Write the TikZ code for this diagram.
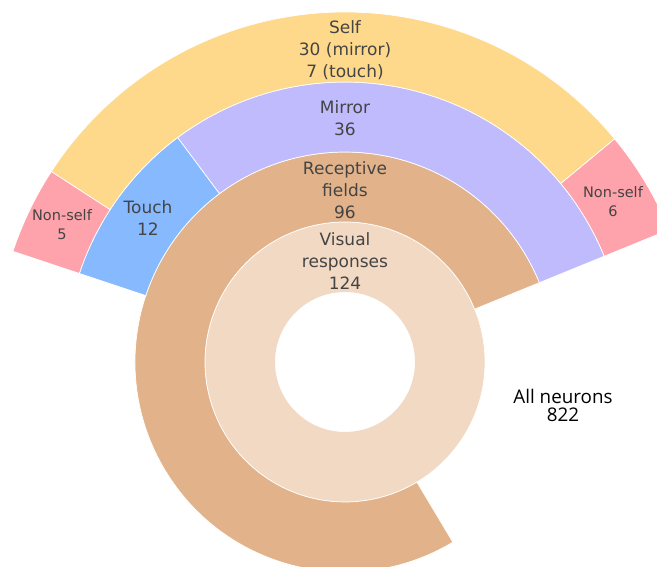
\documentclass[tikz,border=0pt]{standalone}
\usepackage{fontspec}
\setmainfont{DejaVu Sans}
\newfontfamily\allfont{Open Sans}
\definecolor{selfcol}{HTML}{FED98B}
\definecolor{mirrorcol}{HTML}{BFBBFD}
\definecolor{touchcol}{HTML}{86B9FE}
\definecolor{nonselfcol}{HTML}{FEA3AB}
\definecolor{receptcol}{HTML}{E2B38A}
\definecolor{visualcol}{HTML}{F1D9C4}
\definecolor{labelcol}{HTML}{444444}
\tikzset{
  wedge/.style={draw=white, line width=0.7pt},
  lab/.style={align=center, text=labelcol, inner sep=0pt, font=\fontsize{17}{22}\selectfont},
  smalllab/.style={lab, font=\fontsize{14.5}{19}\selectfont}
}
% ring sector: inner radius, outer radius, start angle, end angle, colour
\newcommand{\ringpart}[5]{%
  \fill[#5, wedge] (#3:#1pt) arc[start angle=#3, end angle=#4, radius=#1pt]
    -- (#4:#2pt) arc[start angle=#4, end angle=#3, radius=#2pt] -- cycle;}

\begin{document}
\begin{tikzpicture}[x=1pt, y=1pt]
    \useasboundingbox (-345,-205) rectangle (312,362);
    \clip (-345,-205) rectangle (312,362);
    % 124 neurons = 360 degrees, start at 22.2
    \fill[visualcol, even odd rule] (0,0) circle[radius=140pt] (0,0) circle[radius=70pt];
    \draw[wedge] (0,0) circle[radius=140pt];
    \ringpart{140}{210}{22.2}{300.91}{receptcol}
    \ringpart{210}{280}{22.2}{126.72}{mirrorcol}
    \ringpart{210}{280}{126.72}{161.56}{touchcol}
    \ringpart{280}{350}{22.2}{39.62}{nonselfcol}
    \ringpart{280}{350}{39.62}{147.04}{selfcol}
    \ringpart{280}{350}{147.04}{161.56}{nonselfcol}
    % LABELS
    \node[lab] (self) at (0,312) {Self\\30 (mirror)\\7 (touch)};
    \node[lab] (mirror) at (0,244) {Mirror\\36};
    \node[lab] (recept) at (0,172) {Receptive\\fields\\96};
    \node[lab] (visual) at (0,101) {Visual\\responses\\124};
    \node[lab] (touch) at (-197,144) {Touch\\12};
    \node[smalllab] (nonselfL) at (-283,137) {Non-self\\5};
    \node[smalllab] (nonselfR) at (268,160.5) {Non-self\\6};
    \node[align=center, inner sep=0pt, font=\allfont\fontsize{18.8}{18}\selectfont] (all) at (218,-43) {All neurons\\822};
\end{tikzpicture}
\end{document}
